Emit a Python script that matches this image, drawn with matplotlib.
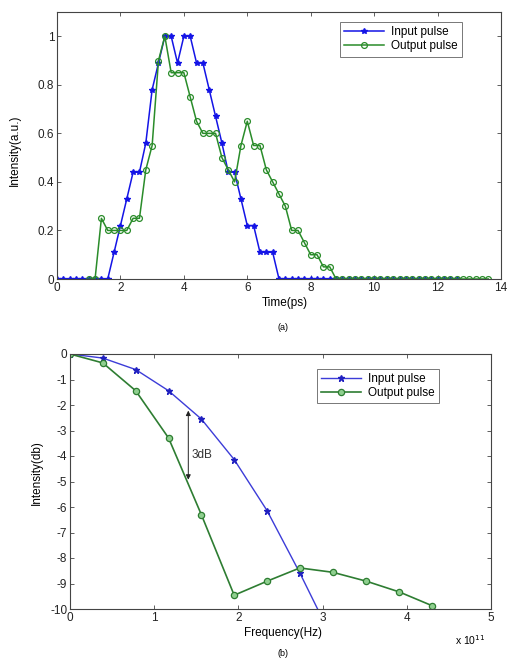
import numpy as np
import matplotlib
matplotlib.use("Agg")
import matplotlib.pyplot as plt

plt.rcParams['font.family'] = ['Liberation Sans', 'DejaVu Sans']
plt.rcParams['axes.unicode_minus'] = False

# ---------- data (a) ----------
t_in = [round(0.2 * k, 1) for k in range(64)]          # 0 .. 12.6 ps
inp_vals = [0, 0, 0, 0, 0, 0, 0, 0, 0,                  # 0.0 - 1.6
            0.11, 0.22, 0.33, 0.44, 0.44, 0.56, 0.78, 0.89,   # 1.8 - 3.2
            1.0, 1.0, 0.89, 1.0, 1.0, 0.89, 0.89, 0.78,       # 3.4 - 4.8
            0.67, 0.56, 0.44, 0.44, 0.33, 0.22, 0.22, 0.11,   # 5.0 - 6.4
            0.11, 0.11] + [0] * 29                            # 6.6 - 12.6
t_out = [round(1.0 + 0.2 * k, 1) for k in range(64)]   # 1.0 .. 13.6 ps
out_vals = [0, 0, 0.25, 0.2, 0.2, 0.2, 0.2, 0.25, 0.25,      # 1.0 - 2.6
            0.45, 0.55, 0.9, 1.0, 0.85, 0.85, 0.85, 0.75,     # 2.8 - 4.2
            0.65, 0.6, 0.6, 0.6, 0.5, 0.45, 0.4, 0.55,        # 4.4 - 5.8
            0.65, 0.55, 0.55, 0.45, 0.4, 0.35, 0.3, 0.2,      # 6.0 - 7.4
            0.2, 0.15, 0.1, 0.1, 0.05, 0.05] + [0] * 25       # 7.6 - 13.6

# ---------- data (b) ----------
freq = [0, 0.39, 0.78, 1.17, 1.56, 1.95, 2.34, 2.73, 3.12, 3.52, 3.91, 4.30]   # x 1e11 Hz
inp_db = [0, -0.16, -0.61, -1.44, -2.55, -4.14, -6.14, -8.59, -11.2]
out_db = [0, -0.35, -1.44, -3.29, -6.3, -9.46, -8.91, -8.39, -8.56, -8.91, -9.33, -9.87]

x_ticks_a = [0, 2, 4, 6, 8, 10, 12, 14]
y_ticks_a = [0, 0.2, 0.4, 0.6, 0.8, 1]
y_ticklabels_a = ['0', '0.2', '0.4', '0.6', '0.8', '1']
x_ticks_b = [0, 1, 2, 3, 4, 5]
y_ticks_b = list(range(-10, 1))

W, H = 507, 660
fig = plt.figure(figsize=(W / 100, H / 100), dpi=100)

def style(ax):
    for s in ax.spines.values():
        s.set_color('#444444')
        s.set_linewidth(0.8)
    ax.tick_params(direction='in', top=True, right=True, labelsize=8.5,
                   length=3, width=0.6, colors='#444444', labelcolor='#222222', pad=2)

# ---- (a)
ax1 = fig.add_axes([57 / W, 1 - 279 / H, (501 - 57) / W, (279 - 12) / H])
ax1.plot(t_in, inp_vals, '-', color='#1414e6', lw=1.1, marker='*', ms=4.2,
         mec='#1414e6', label='Input pulse')
ax1.plot(t_out, out_vals, '-', color='#2a8c2a', lw=1.1, marker='o', ms=4.2,
         mfc='none', mec='#2a8c2a', mew=0.9, label='Output pulse')
ax1.set_xlim(0, 14)
ax1.set_ylim(0, 1.1)
ax1.set_xticks(x_ticks_a)
ax1.set_yticks(y_ticks_a)
ax1.set_yticklabels(y_ticklabels_a)
style(ax1)
leg1 = ax1.legend(loc='upper right', bbox_to_anchor=(0.925, 0.985), fontsize=8.5,
                  frameon=True, fancybox=False, edgecolor='#555555',
                  handlelength=3.4, borderpad=0.35, labelspacing=0.2, handletextpad=0.6)
leg1.get_frame().set_linewidth(0.7)
fig.text(285 / W, 1 - 303 / H, 'Time(ps)', ha='center', va='center', fontsize=8.5)
fig.text(283 / W, 1 - 327 / H, '(a)', ha='center', va='center', fontsize=6.5)
fig.text(15 / W, 1 - 150 / H, 'Intensity(a.u.)', ha='center', va='center',
         rotation=90, fontsize=8.5)

# ---- (b)
ax2 = fig.add_axes([70 / W, 1 - 609 / H, (491 - 70) / W, (609 - 354) / H])
ax2.plot(freq[:len(inp_db)], inp_db, '-', color='#3c3cd8', lw=1.0, marker='*', ms=4.5,
         mec='#2020c0', mfc='#2020c0', label='Input pulse')
ax2.plot(freq, out_db, '-', color='#2e7d32', lw=1.2, marker='o', ms=4.5,
         mec='#2e7d32', mfc='#8fcf8f', mew=0.9, label='Output pulse')
ax2.set_xlim(0, 5)
ax2.set_ylim(-10, 0)
ax2.set_xticks(x_ticks_b)
ax2.set_yticks(y_ticks_b)
style(ax2)
ax2.annotate('', xy=(1.405, -2.22), xytext=(1.405, -4.93),
             arrowprops=dict(arrowstyle='<|-|>', color='#222222', lw=0.7,
                             mutation_scale=7, shrinkA=0, shrinkB=0))
ax2.text(1.445, -3.95, '3dB', ha='left', va='center', fontsize=8.5, color='#333333')
leg2 = ax2.legend(loc='upper right', bbox_to_anchor=(0.89, 0.965), fontsize=8.5,
                  frameon=True, fancybox=False, edgecolor='#555555',
                  handlelength=3.4, borderpad=0.35, labelspacing=0.15, handletextpad=0.6)
leg2.get_frame().set_linewidth(0.7)
fig.text(283 / W, 1 - 633 / H, 'Frequency(Hz)', ha='center', va='center', fontsize=8.5)
fig.text(283 / W, 1 - 653 / H, '(b)', ha='center', va='center', fontsize=6.5)
fig.text(470 / W, 1 - 640 / H, r'x 10$^{11}$', ha='center', va='center', fontsize=7.5)
fig.text(37 / W, 1 - 473 / H, 'Intensity(db)', ha='center', va='center',
         rotation=90, fontsize=8.5)

fig.savefig('out.png', dpi=100)
